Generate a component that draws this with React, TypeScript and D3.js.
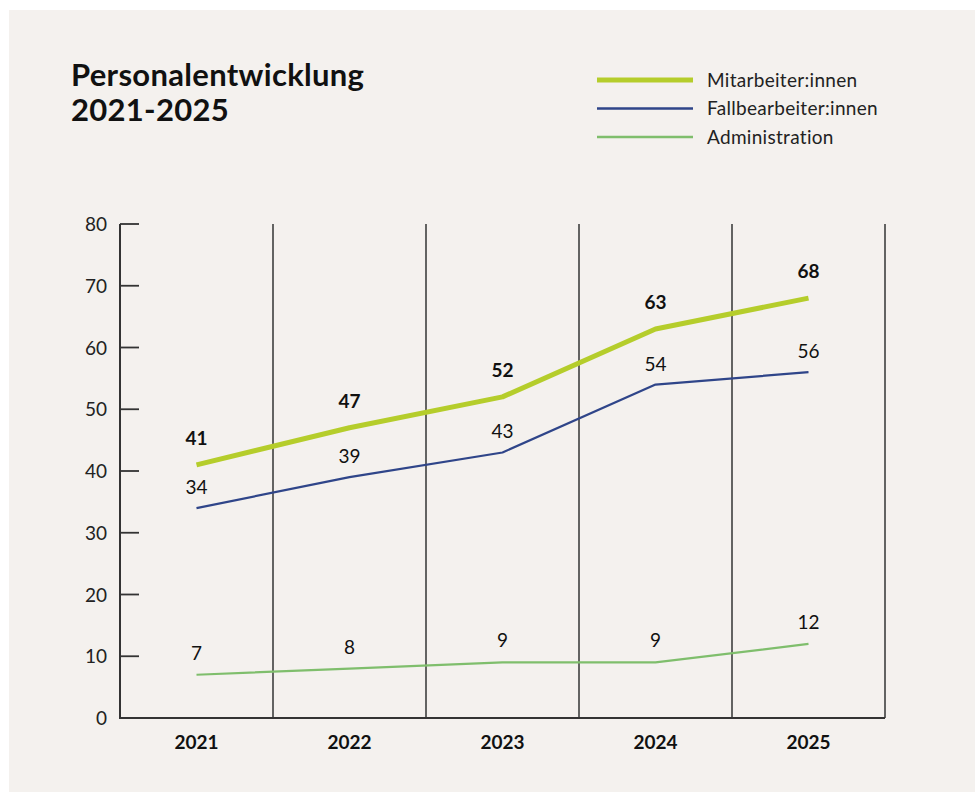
import React from "react";
import * as d3 from "d3";

const years = ["2021", "2022", "2023", "2024", "2025"];
const mitarbeiter = [41, 47, 52, 63, 68];
const fallbearbeiter = [34, 39, 43, 54, 56];
const administration = [7, 8, 9, 9, 12];
const yTicks = [0, 10, 20, 30, 40, 50, 60, 70, 80];
const seriesNames = ["Mitarbeiter:innen", "Fallbearbeiter:innen", "Administration"];
const seriesColors = ["#b5cd2b", "#2f4589", "#7fbe6c"];
const seriesWidths = [5, 2.2, 2.2];

const W = 975;
const H = 792;
const FONT = "Lato, 'Open Sans', sans-serif";

export default function App() {
  const x = d3.scaleBand<string>().domain(years).range([120, 885]);
  const y = d3.scaleLinear().domain([0, 80]).range([718, 224]);
  const line = d3
    .line<number>()
    .x((_, i) => (x(years[i]) as number) + x.bandwidth() / 2)
    .y((d) => y(d));

  const series = [mitarbeiter, fallbearbeiter, administration];
  const labelOffsets = [20, 14, 15];

  return (
    <svg
      width={W}
      height={H}
      style={{ position: "absolute", left: 0, top: 0, background: "#ffffff" }}
      fontFamily={FONT}
    >
      <rect x={9} y={10} width={W - 9} height={H - 10} fill="#f4f1ee" />
      <text x={71} y={86} fontSize={31} fontWeight={700} fill="#111" letterSpacing={0.3}>
        Personalentwicklung
      </text>
      <text x={71} y={121} fontSize={31} fontWeight={700} fill="#111" letterSpacing={0.3}>
        2021-2025
      </text>

      {seriesNames.map((n, i) => (
        <g key={n}>
          <line
            x1={597}
            x2={693}
            y1={80 + i * 28.5}
            y2={80 + i * 28.5}
            stroke={seriesColors[i]}
            strokeWidth={i === 0 ? 5 : 2.5}
          />
          <text x={707} y={80 + i * 28.5 + 6.5} fontSize={19} fill="#222" letterSpacing={0.3}>
            {n}
          </text>
        </g>
      ))}

      {years.map((yr) => (
        <line
          key={yr}
          x1={(x(yr) as number) + x.bandwidth()}
          x2={(x(yr) as number) + x.bandwidth()}
          y1={y(80)}
          y2={y(0)}
          stroke="#333"
          strokeWidth={1.5}
        />
      ))}
      <line x1={120} x2={120} y1={y(80)} y2={y(0)} stroke="#333" strokeWidth={2} />
      <line x1={119} x2={885} y1={y(0)} y2={y(0)} stroke="#333" strokeWidth={2} />
      {yTicks.map((t) => (
        <g key={t}>
          {t > 0 && (
            <line x1={120} x2={139} y1={y(t)} y2={y(t)} stroke="#333" strokeWidth={1.8} />
          )}
          <text x={107} y={y(t) + 7} fontSize={19} textAnchor="end" fill="#222">
            {t}
          </text>
        </g>
      ))}
      {years.map((yr) => (
        <text
          key={yr}
          x={(x(yr) as number) + x.bandwidth() / 2}
          y={749}
          fontSize={19}
          fontWeight={700}
          textAnchor="middle"
          fill="#111"
        >
          {yr}
        </text>
      ))}

      {series.map((s, si) => (
        <g key={si}>
          <path
            d={line(s) as string}
            fill="none"
            stroke={seriesColors[si]}
            strokeWidth={seriesWidths[si]}
            strokeLinejoin="round"
          />
          {s.map((v, i) => (
            <text
              key={i}
              x={(x(years[i]) as number) + x.bandwidth() / 2}
              y={y(v) - labelOffsets[si]}
              fontSize={19}
              fontWeight={si === 0 ? 700 : 400}
              textAnchor="middle"
              fill="#111"
            >
              {v}
            </text>
          ))}
        </g>
      ))}
    </svg>
  );
}
